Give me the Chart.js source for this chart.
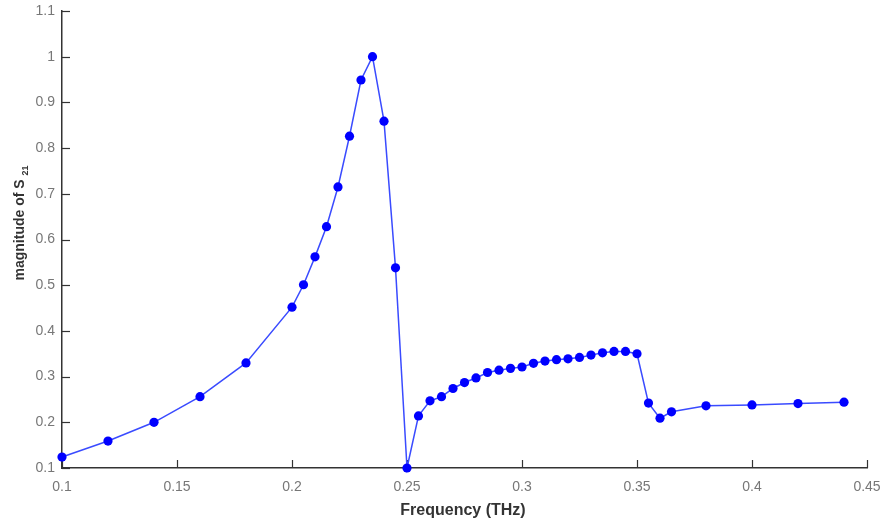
<!DOCTYPE html>
<html>
<head>
<meta charset="utf-8">
<script src="https://cdn.jsdelivr.net/npm/chart.js@4"></script>
<style>
  html, body { margin: 0; padding: 0; background: #fff; }
  #wrap { width: 882px; height: 528px; }
</style>
</head>
<body>
<div id="wrap"><canvas id="grafico" width="882" height="528"></canvas></div>
<script>
// frequency (THz) and |S21|
const frecuencias = [
  0.1, 0.12, 0.14, 0.16, 0.18, 0.2, 0.205, 0.21, 0.215, 0.22, 0.225, 0.23, 0.235, 0.24, 0.245, 0.25,
  0.255, 0.26, 0.265, 0.27, 0.275, 0.28, 0.285, 0.29, 0.295, 0.3, 0.305, 0.31, 0.315, 0.32, 0.325,
  0.33, 0.335, 0.34, 0.345, 0.35, 0.355, 0.36, 0.365, 0.38, 0.4, 0.42, 0.44
];
const magnitudS21 = [
  0.124, 0.159, 0.200, 0.256, 0.330, 0.452, 0.501, 0.562, 0.628, 0.715, 0.826, 0.949, 1.0, 0.859, 0.538, 0.1,
  0.214, 0.247, 0.256, 0.274, 0.287, 0.297, 0.309, 0.314, 0.318, 0.321, 0.329, 0.334, 0.337, 0.339, 0.342,
  0.347, 0.352, 0.355, 0.355, 0.350, 0.242, 0.209, 0.223, 0.236, 0.238, 0.241, 0.244
];

const ticksX = [0.1, 0.15, 0.2, 0.25, 0.3, 0.35, 0.4, 0.45];
const etiquetasX = ["0.1", "0.15", "0.2", "0.25", "0.3", "0.35", "0.4", "0.45"];
const ticksY = [0.1, 0.2, 0.3, 0.4, 0.5, 0.6, 0.7, 0.8, 0.9, 1, 1.1];
const etiquetasY = ["0.1", "0.2", "0.3", "0.4", "0.5", "0.6", "0.7", "0.8", "0.9", "1", "1.1"];

const tituloX = "Frequency (THz)";
const tituloY = "magnitude of S";
const subY = "21";

const fuente = "'Liberation Sans', Arial, sans-serif";
const colorEje = "#333333";
const colorTexto = "#777777";

// ticks drawn inward, like the original figure
const ticksHaciaDentro = {
  id: "ticksHaciaDentro",
  beforeDatasetsDraw(chart) {
    const ctx = chart.ctx;
    const x = chart.scales.x, y = chart.scales.y;
    const area = chart.chartArea;
    ctx.save();
    ctx.strokeStyle = colorEje;
    ctx.lineWidth = 1.2;
    ticksX.forEach((v) => {
      const px = Math.round(x.getPixelForValue(v)) + 0.5;
      ctx.beginPath();
      ctx.moveTo(px, area.bottom);
      ctx.lineTo(px, area.bottom - 8);
      ctx.stroke();
    });
    ticksY.forEach((v) => {
      const py = Math.round(y.getPixelForValue(v)) + 0.5;
      ctx.beginPath();
      ctx.moveTo(area.left, py);
      ctx.lineTo(area.left + 8, py);
      ctx.stroke();
    });
    ctx.restore();
  },
  afterDraw(chart) {
    const ctx = chart.ctx;
    ctx.save();
    ctx.fillStyle = colorEje;
    // x title
    ctx.font = "bold 16px " + fuente;
    ctx.textAlign = "center";
    ctx.textBaseline = "middle";
    ctx.fillText(tituloX, 463, 511);
    // y title with subscript, rotated
    ctx.translate(20, 223);
    ctx.rotate(-Math.PI / 2);
    ctx.font = "bold 14px " + fuente;
    const w1 = ctx.measureText(tituloY + " ").width;
    ctx.font = "bold 9px " + fuente;
    const w2 = ctx.measureText(subY).width;
    const inicio = -(w1 + w2) / 2;
    ctx.textAlign = "left";
    ctx.textBaseline = "middle";
    ctx.font = "bold 14px " + fuente;
    ctx.fillText(tituloY, inicio, 0);
    ctx.font = "bold 9px " + fuente;
    ctx.fillText(subY, inicio + w1, 6);
    ctx.restore();
  }
};

// the layout padding alone decides the plot area
function sinRelleno(s) {
  s.paddingTop = 0;
  s.paddingBottom = 0;
  s.paddingLeft = 0;
  s.paddingRight = 0;
}

const ctx = document.getElementById("grafico").getContext("2d");
new Chart(ctx, {
  type: "line",
  data: {
    datasets: [
      {
        data: frecuencias.map((f, i) => ({ x: f, y: magnitudS21[i] })),
        borderColor: "#3a4bff",
        borderWidth: 1.5,
        pointBackgroundColor: "#0000ff",
        pointBorderColor: "#0000ff",
        pointRadius: 4.6,
        pointBorderWidth: 0,
        tension: 0,
        fill: false,
        clip: false
      }
    ]
  },
  options: {
    responsive: false,
    animation: false,
    layout: { padding: { top: 11, right: 15, left: 0, bottom: 0 } },
    plugins: { legend: { display: false }, tooltip: { enabled: false } },
    scales: {
      x: {
        type: "linear",
        min: 0.1,
        max: 0.45,
        afterBuildTicks: (s) => { s.ticks = ticksX.map((v) => ({ value: v })); },
        afterFit: (s) => { s.height = 60; sinRelleno(s); },
        grid: { drawOnChartArea: false, drawTicks: false },
        border: { color: colorEje, width: 1.5 },
        ticks: {
          padding: 11,
          color: colorTexto,
          font: { family: fuente, size: 14 },
          maxRotation: 0,
          callback: (v) => etiquetasX[ticksX.indexOf(v)]
        }
      },
      y: {
        type: "linear",
        min: 0.1,
        max: 1.1,
        afterBuildTicks: (s) => { s.ticks = ticksY.map((v) => ({ value: v })); },
        afterFit: (s) => { s.width = 62; sinRelleno(s); },
        grid: { drawOnChartArea: false, drawTicks: false },
        border: { color: colorEje, width: 1.5 },
        ticks: {
          padding: 7,
          color: colorTexto,
          font: { family: fuente, size: 14 },
          callback: (v) => etiquetasY[ticksY.indexOf(v)]
        }
      }
    }
  },
  plugins: [ticksHaciaDentro]
});
</script>
</body>
</html>
